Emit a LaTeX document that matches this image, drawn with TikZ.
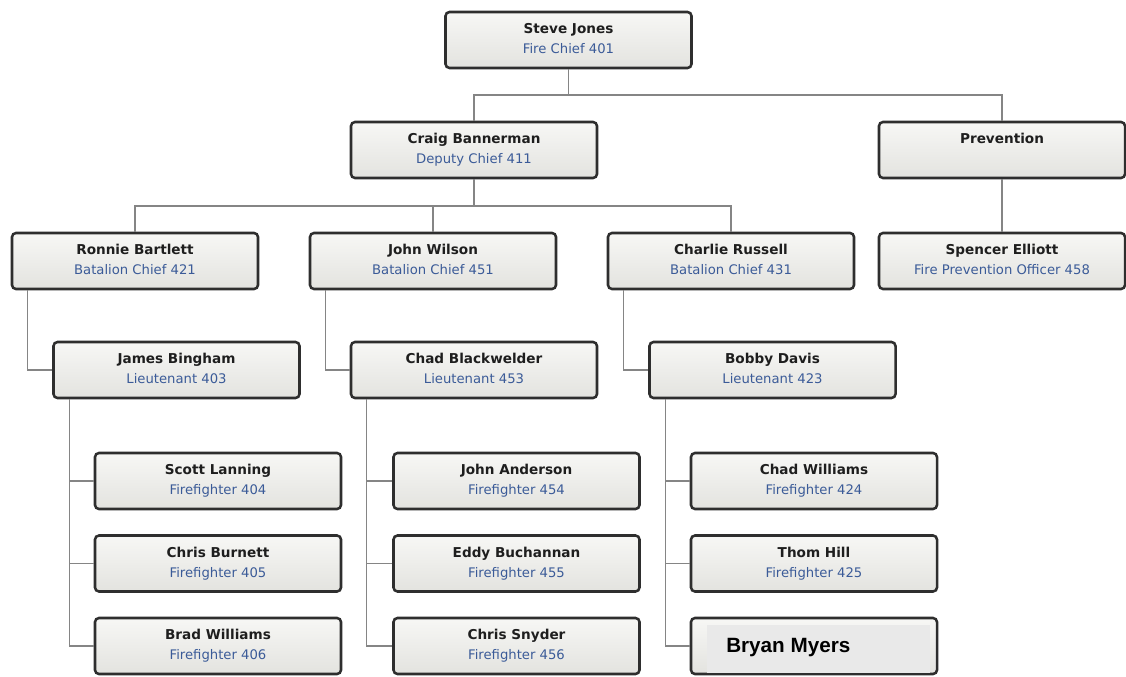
\documentclass[tikz,border=0pt]{standalone}
\usepackage{fontspec}
\setmainfont{DejaVu Sans}
\newfontfamily\arialfont{Liberation Sans}
\definecolor{bordc}{HTML}{2E2E2E}
\definecolor{filltop}{HTML}{F7F7F5}
\definecolor{fillbot}{HTML}{E3E3DF}
\definecolor{namec}{HTML}{1E1E1E}
\definecolor{titlec}{HTML}{3B5B98}
\definecolor{connc}{HTML}{858585}
\definecolor{innerc}{HTML}{E9E9E9}
\tikzset{
  pbox/.style={draw=bordc, line width=1.9pt, rounded corners=3pt,
    top color=filltop, bottom color=fillbot,
    minimum width=184.5pt, minimum height=42pt, inner sep=0pt},
  pname/.style={inner sep=0pt, anchor=mid, text=namec,
    font=\fontsize{10.2}{12}\selectfont\bfseries},
  ptitle/.style={inner sep=0pt, anchor=mid, text=titlec,
    font=\fontsize{9.9}{12}\selectfont},
  conn/.style={draw=connc, line width=1.1pt},
}
\newcommand\orgbox[5]{%
  \node[pbox] (#1) at (#2,#3+29) {};
  \node[pname] (#1-n) at (#2,#3+19) {#4};
  \node[ptitle] (#1-t) at (#2,#3+39) {#5};
}
\begin{document}
\begin{tikzpicture}[x=0.75pt,y=-0.75pt]
\useasboundingbox (0,0) rectangle (1126,677);
\coordinate (j1) at (568.5,95);
\coordinate (j2) at (474,206);
% boxes
\orgbox{sj}{568.5}{11}{Steve Jones}{Fire Chief 401}
\orgbox{cb}{474}{121}{Craig Bannerman}{Deputy Chief 411}
\node[pbox] (pv) at (1002,150) {};
\node[pname] (pv-n) at (1002,140) {Prevention};
\orgbox{rb}{135}{232}{Ronnie Bartlett}{Batalion Chief 421}
\orgbox{jw}{433}{232}{John Wilson}{Batalion Chief 451}
\orgbox{cr}{731}{232}{Charlie Russell}{Batalion Chief 431}
\orgbox{se}{1002}{232}{Spencer Elliott}{Fire Prevention Officer 458}
\orgbox{jb}{176.5}{341}{James Bingham}{Lieutenant 403}
\orgbox{cbl}{474}{341}{Chad Blackwelder}{Lieutenant 453}
\orgbox{bd}{772.5}{341}{Bobby Davis}{Lieutenant 423}
\orgbox{sl}{218}{452}{Scott Lanning}{Firefighter 404}
\orgbox{cbu}{218}{534.5}{Chris Burnett}{Firefighter 405}
\orgbox{bw}{218}{617}{Brad Williams}{Firefighter 406}
\orgbox{ja}{516.5}{452}{John Anderson}{Firefighter 454}
\orgbox{eb}{516.5}{534.5}{Eddy Buchannan}{Firefighter 455}
\orgbox{cs}{516.5}{617}{Chris Snyder}{Firefighter 456}
\orgbox{cw}{814}{452}{Chad Williams}{Firefighter 424}
\orgbox{th}{814}{534.5}{Thom Hill}{Firefighter 425}
% Bryan Myers box
\node[pbox] (bm) at (814,646) {};
\fill[innerc] (707,625) rectangle (930,673);
\node[inner sep=0pt, anchor=west, font=\arialfont\fontsize{15.5}{17}\selectfont\bfseries] (bm-n) at (726,648) {Bryan Myers};
% connectors
\draw[conn] (sj.south) -- (j1);
\draw[conn] (cb.north) |- (j1) -| (pv.north);
\draw[conn] (cb.south) -- (j2);
\draw[conn] (rb.north) |- (j2) -| (cr.north);
\draw[conn] (jw.north) -- (jw.north |- j2);
\draw[conn] (pv.south) -- (se.north);
\draw[conn] ([xshift=12.75pt]rb.south west) |- (jb.west);
\draw[conn] ([xshift=12.75pt]jw.south west) |- (cbl.west);
\draw[conn] ([xshift=12.75pt]cr.south west) |- (bd.west);
\draw[conn] ([xshift=12.75pt]jb.south west) |- (sl.west);
\draw[conn] ([xshift=12.75pt]jb.south west) |- (cbu.west);
\draw[conn] ([xshift=12.75pt]jb.south west) |- (bw.west);
\draw[conn] ([xshift=12.75pt]cbl.south west) |- (ja.west);
\draw[conn] ([xshift=12.75pt]cbl.south west) |- (eb.west);
\draw[conn] ([xshift=12.75pt]cbl.south west) |- (cs.west);
\draw[conn] ([xshift=12.75pt]bd.south west) |- (cw.west);
\draw[conn] ([xshift=12.75pt]bd.south west) |- (th.west);
\draw[conn] ([xshift=12.75pt]bd.south west) |- (bm.west);
\end{tikzpicture}
\end{document}
